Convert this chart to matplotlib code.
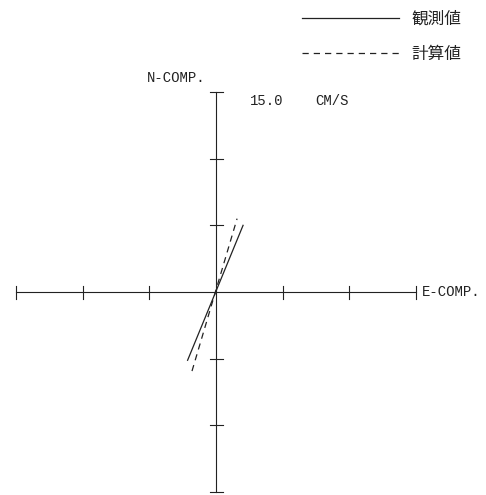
import matplotlib
matplotlib.use('Agg')
import matplotlib.pyplot as plt

# current vector hodograph, units cm/s (axis tick = 5 cm/s)
obs_e = [-2.13, 2.03]
obs_n = [-5.12, 5.00]
calc_e = [-1.80, 1.58]
calc_n = [-5.93, 5.50]
ticks = [-15, -10, -5, 0, 5, 10, 15]
scale_label = '15.0'
unit_label = 'CM/S'
labels = ['観測値', '計算値']

ink = '#222222'
mono = ['Liberation Mono', 'DejaVu Sans Mono']
plt.rcParams['font.family'] = ['Noto Sans CJK JP', 'DejaVu Sans']

fig = plt.figure(figsize=(4.86, 4.95), dpi=100)
ax = fig.add_axes([0, 0, 1, 1])
ppu = 400 / 30.0  # pixels per unit
ax.set_xlim(-216 / ppu, 270 / ppu)
ax.set_ylim(-203 / ppu, 292 / ppu)
ax.axis('off')

# axes cross with tick marks
ax.plot([ticks[0], ticks[-1]], [0, 0], color=ink, lw=0.8)
ax.plot([0, 0], [ticks[0], ticks[-1]], color=ink, lw=0.8)
tl = 6.5 / ppu
for t in ticks:
    if t == 0:
        continue
    ax.plot([t, t], [-tl, tl], color=ink, lw=0.8)
    ax.plot([-tl, tl], [t, t], color=ink, lw=0.8)

l1, = ax.plot(obs_e, obs_n, color=ink, lw=0.9, label=labels[0])
l2, = ax.plot(calc_e, calc_n, color=ink, lw=0.9, linestyle=(0, (5, 4)),
              label=labels[1])

ax.text(-0.8, 16.05, 'N-COMP.', ha='right', va='center', fontsize=10,
        color=ink, family=mono)
ax.text(2.55, 14.35, scale_label, ha='left', va='center', fontsize=10,
        color=ink, family=mono)
ax.text(7.45, 14.35, unit_label, ha='left', va='center', fontsize=10,
        color=ink, family=mono)
ax.text(15.45, 0, 'E-COMP.', ha='left', va='center', fontsize=10,
        color=ink, family=mono)

ax.legend(handles=[l1, l2], loc='upper left', bbox_to_anchor=(302 / 486, 1 - 11 / 495),
          frameon=False, fontsize=12, handlelength=5.8, handletextpad=0.75,
          labelspacing=1.1, borderpad=0, borderaxespad=0, labelcolor=ink)

fig.savefig('out.png', dpi=100, facecolor='white')
